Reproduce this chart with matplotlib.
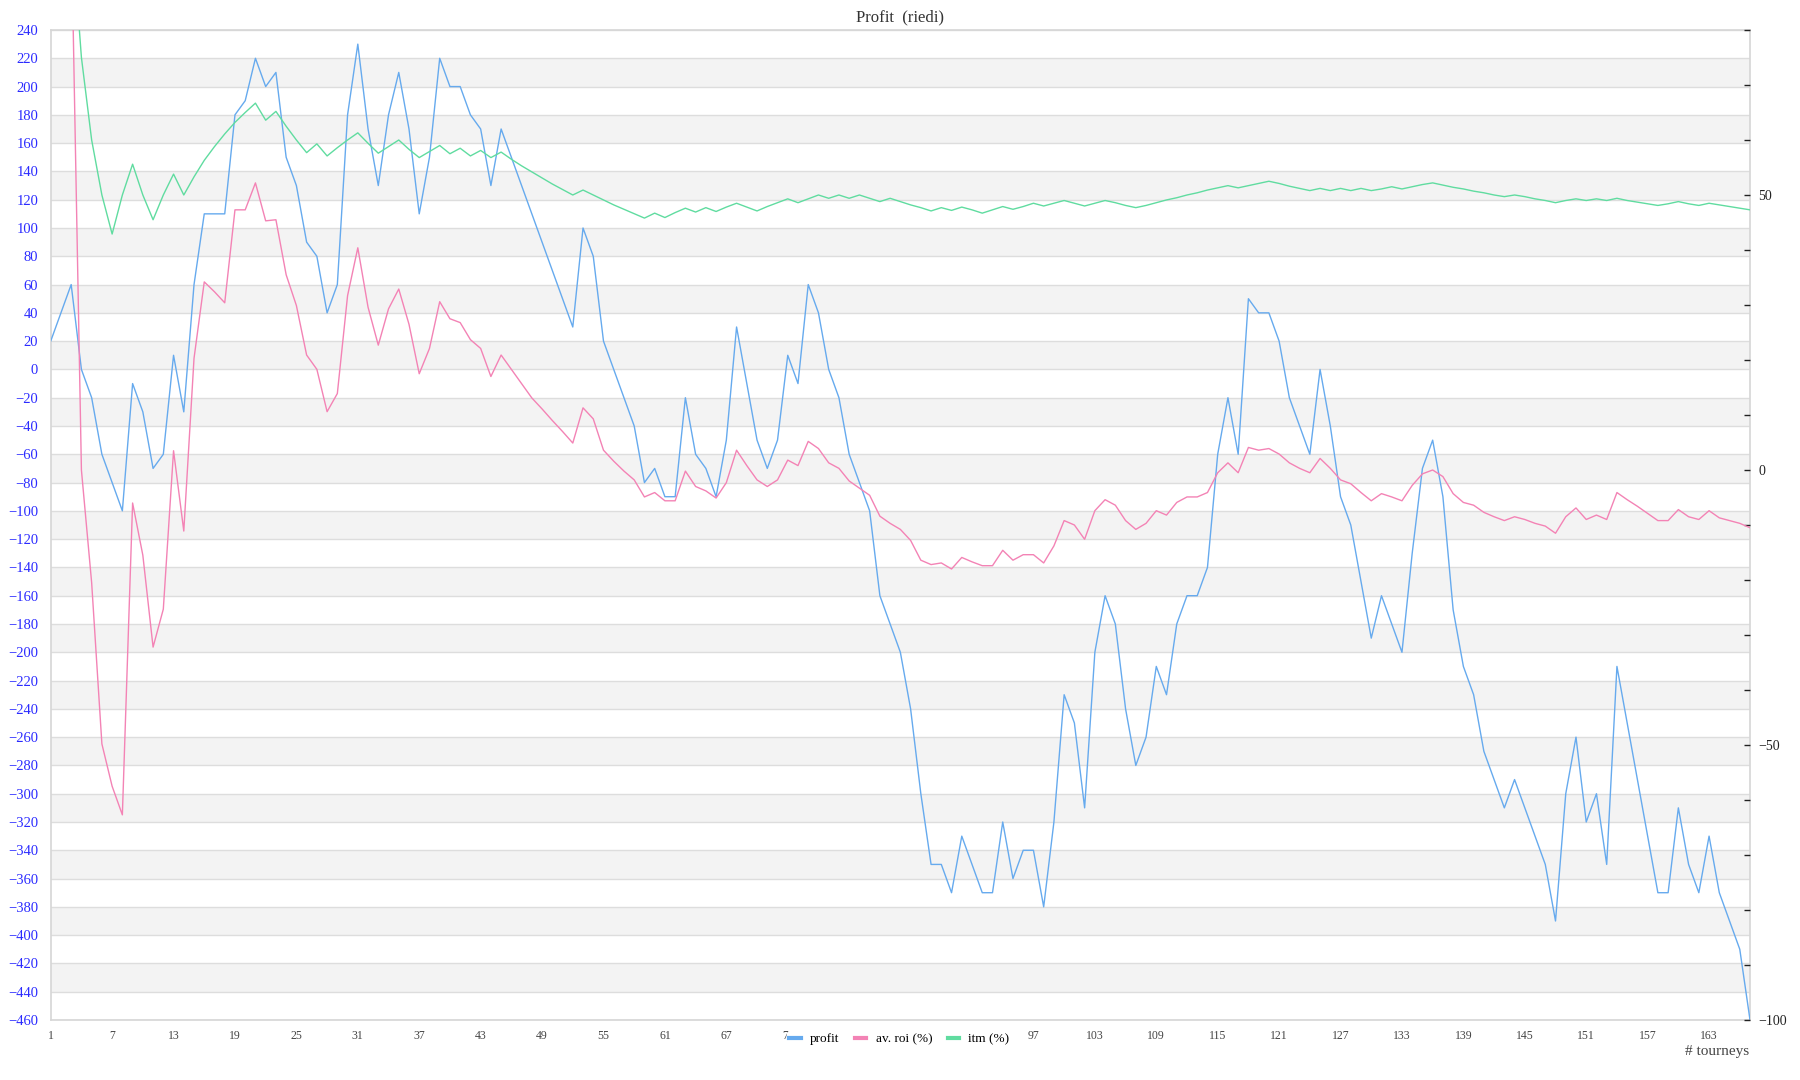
import numpy as np
import matplotlib
matplotlib.use('Agg')
import matplotlib.pyplot as plt
from matplotlib.ticker import MultipleLocator, FixedLocator

# tourney number on the x axis
tourneys = list(range(1, 168))

# cumulative profit (left axis)
profit = [20, 40, 60, 0, -20, -60, -80, -100, -10, -30,
          -70, -60, 10, -30, 60, 110, 110, 110, 180, 190,
          220, 200, 210, 150, 130, 90, 80, 40, 60, 180,
          230, 170, 130, 180, 210, 170, 110, 150, 220, 200,
          200, 180, 170, 130, 170, 150, 130, 110, 90, 70,
          50, 30, 100, 80, 20, 0, -20, -40, -80, -70,
          -90, -90, -20, -60, -70, -90, -50, 30, -10, -50,
          -70, -50, 10, -10, 60, 40, 0, -20, -60, -80,
          -100, -160, -180, -200, -240, -300, -350, -350, -370, -330,
          -350, -370, -370, -320, -360, -340, -340, -380, -320, -230,
          -250, -310, -200, -160, -180, -240, -280, -260, -210, -230,
          -180, -160, -160, -140, -60, -20, -60, 50, 40, 40,
          20, -20, -40, -60, 0, -40, -90, -110, -150, -190,
          -160, -180, -200, -130, -70, -50, -90, -170, -210, -230,
          -270, -290, -310, -290, -310, -330, -350, -390, -300, -260,
          -320, -300, -350, -210, -250, -290, -330, -370, -370, -310,
          -350, -370, -330, -370, -390, -410, -460]

# average roi in % (right axis)
roi = [100, 100, 100, 0.0, -20.5, -49.8, -57.5, -62.7, -6.0, -15.5,
       -32.2, -25.3, 3.5, -11.1, 20.3, 34.2, 32.4, 30.4, 47.3, 47.3,
       52.2, 45.3, 45.5, 35.5, 29.9, 20.9, 18.3, 10.6, 13.9, 31.7,
       40.4, 29.6, 22.7, 29.3, 32.9, 26.5, 17.5, 22.1, 30.6, 27.5,
       26.8, 23.7, 22.1, 17.0, 20.9, 18.3, 15.7, 13.1, 11.1, 9.0,
       7.0, 4.9, 11.3, 9.3, 3.6, 1.6, -0.2, -1.8, -4.9, -4.1,
       -5.6, -5.6, -0.2, -3.0, -3.8, -5.1, -2.3, 3.6, 0.8, -1.8,
       -3.0, -1.8, 1.8, 0.8, 5.2, 3.9, 1.3, 0.3, -2.0, -3.3,
       -4.6, -8.4, -9.7, -10.8, -12.8, -16.4, -17.2, -16.9, -18.0, -15.9,
       -16.7, -17.4, -17.4, -14.6, -16.4, -15.4, -15.4, -16.9, -13.8, -9.2,
       -10.0, -12.6, -7.4, -5.4, -6.4, -9.2, -10.8, -9.7, -7.4, -8.2,
       -5.9, -4.9, -4.9, -4.1, -0.5, 1.3, -0.5, 4.1, 3.6, 3.9,
       2.9, 1.3, 0.3, -0.5, 2.1, 0.3, -1.8, -2.5, -4.1, -5.6,
       -4.3, -4.9, -5.6, -2.8, -0.7, 0.0, -1.2, -4.3, -5.9, -6.4,
       -7.7, -8.5, -9.2, -8.5, -9.0, -9.7, -10.2, -11.5, -8.5, -6.9,
       -9.0, -8.2, -9.0, -4.1, -5.4, -6.6, -7.9, -9.2, -9.2, -7.2,
       -8.5, -9.0, -7.4, -8.7, -9.2, -9.7, -10.5]

# in the money in % (right axis)
itm = [100, 100, 100, 75.0, 60.0, 50.0, 42.9, 50.0, 55.6, 50.0,
       45.5, 50.0, 53.8, 50.0, 53.3, 56.3, 58.8, 61.1, 63.2, 65.0,
       66.7, 63.6, 65.2, 62.5, 60.0, 57.7, 59.3, 57.1, 58.6, 60.0,
       61.3, 59.4, 57.6, 58.8, 60.0, 58.3, 56.8, 57.9, 59.0, 57.5,
       58.5, 57.1, 58.1, 56.8, 57.8, 56.5, 55.3, 54.2, 53.1, 52.0,
       51.0, 50.0, 50.9, 50.0, 49.1, 48.2, 47.4, 46.6, 45.8, 46.7,
       45.9, 46.8, 47.6, 46.9, 47.7, 47.0, 47.8, 48.5, 47.8, 47.1,
       47.9, 48.6, 49.3, 48.6, 49.3, 50.0, 49.4, 50.0, 49.4, 50.0,
       49.4, 48.8, 49.4, 48.8, 48.2, 47.7, 47.1, 47.7, 47.2, 47.8,
       47.3, 46.7, 47.3, 47.9, 47.4, 47.9, 48.5, 48.0, 48.5, 49.0,
       48.5, 48.0, 48.5, 49.0, 48.6, 48.1, 47.7, 48.1, 48.6, 49.1,
       49.5, 50.0, 50.4, 50.9, 51.3, 51.7, 51.3, 51.7, 52.1, 52.5,
       52.1, 51.6, 51.2, 50.8, 51.2, 50.8, 51.2, 50.8, 51.2, 50.8,
       51.1, 51.5, 51.1, 51.5, 51.9, 52.2, 51.8, 51.4, 51.1, 50.7,
       50.4, 50.0, 49.7, 50.0, 49.7, 49.3, 49.0, 48.6, 49.0, 49.3,
       49.0, 49.3, 49.0, 49.4, 49.0, 48.7, 48.4, 48.1, 48.4, 48.8,
       48.4, 48.1, 48.5, 48.2, 47.9, 47.6, 47.3]

# every 6th tourney gets a label; 79, 85 and 91 sit under the legend
x_ticks = list(range(1, 167, 6))
x_labels = ['' if t in (79, 85, 91) else str(t) for t in x_ticks]

SERIF = ['Liberation Serif', 'DejaVu Serif']
plt.rcParams['font.family'] = SERIF

fig = plt.figure(figsize=(18, 10.8), dpi=100)
ax = fig.add_axes([0.02817, 0.05556, 0.94406, 0.91667])

# grey bands and grid lines
for top in range(220, -460, -40):
    ax.axhspan(top - 20, top, color='#f3f3f3', zorder=0, lw=0)
for y in range(-460, 241, 20):
    ax.axhline(y, color='#dddddd', lw=1.0, zorder=0.5)

l1, = ax.plot(tourneys, profit, color='#66aaee', lw=1.0, zorder=3)
ax.set_xlim(1, 167)
ax.set_ylim(-460, 240)
ax.yaxis.set_major_locator(MultipleLocator(20))
ax.set_xticks(x_ticks)
ax.set_xticklabels(x_labels)
ax.tick_params(axis='y', length=0, pad=9, labelsize=10.5, labelcolor='#2b2bff')
ax.tick_params(axis='x', length=0, pad=7, labelsize=8.5, labelcolor='#444444')
for s in ax.spines.values():
    s.set_color('#d6d6d6')
    s.set_linewidth(1.2)

ax2 = ax.twinx()
l2, = ax2.plot(tourneys, roi, color='#f383b5', lw=1.0, zorder=3)
l3, = ax2.plot(tourneys, itm, color='#60dca0', lw=1.0, zorder=3)
ax2.set_ylim(-100, 80)
ax2.yaxis.set_major_locator(FixedLocator([-100, -50, 0, 50]))
ax2.yaxis.set_minor_locator(MultipleLocator(10))
ax2.tick_params(axis='y', which='major', direction='in', length=4, width=1,
                color='#222222', pad=6, labelsize=10, labelcolor='#222222')
ax2.tick_params(axis='y', which='minor', direction='in', length=4, width=1,
                color='#222222')
for s in ax2.spines.values():
    s.set_visible(False)

ax.set_title('Profit  (riedi)', fontsize=12, color='#333333', pad=6)

leg = ax2.legend([l1, l2, l3], ['profit', 'av. roi (%)', 'itm (%)'],
                 loc='center', bbox_to_anchor=(0.4995, -0.0195), ncol=3,
                 frameon=True, framealpha=1, fontsize=9.5, handlelength=0.85,
                 handletextpad=0.7, columnspacing=1.2, borderpad=0.15)
leg.get_frame().set_facecolor('white')
leg.get_frame().set_edgecolor('white')
for h in leg.legend_handles:
    h.set_linewidth(3)

fig.text(1749 / 1800, 1 - 1051 / 1080, '# tourneys', ha='right', va='center',
         fontsize=11, color='#444444')

fig.savefig('out.png', dpi=100)
